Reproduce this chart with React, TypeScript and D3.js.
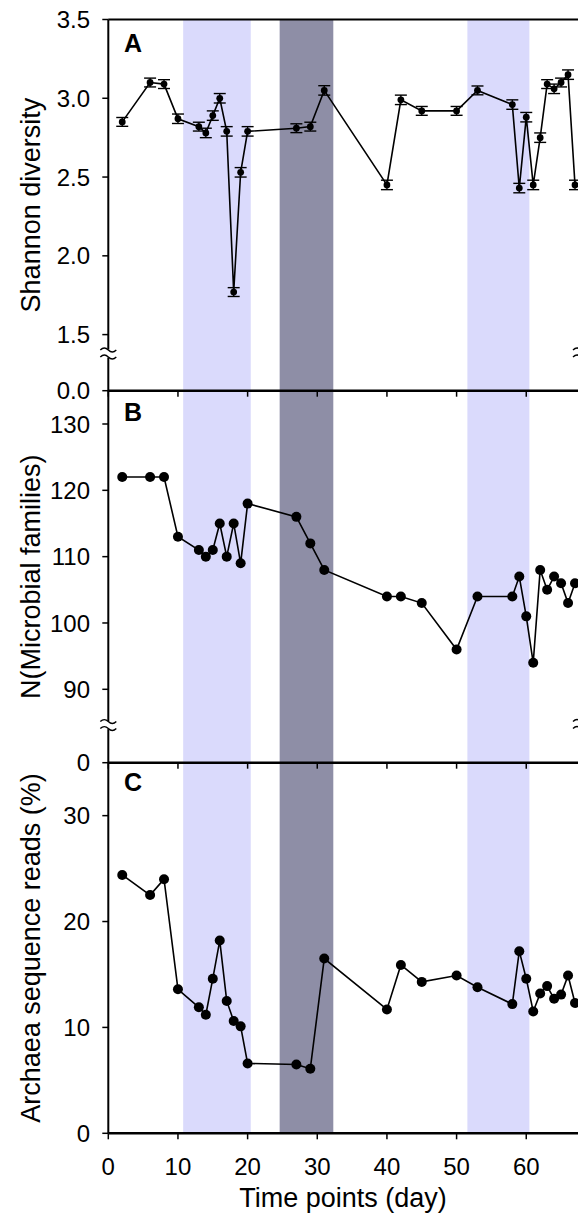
import React from "react";
import * as d3 from "d3";

// sampling days (shared by all three panels)
const days = [2, 6, 8, 10, 13, 14, 15, 16, 17, 18, 19, 20, 27, 29, 31, 40, 42, 45, 50, 53, 58, 59, 60, 61, 62, 63, 64, 65, 66, 67];

// panel A: Shannon diversity (mean +/- error)
const shannon = [2.85, 3.1, 3.09, 2.87, 2.82, 2.78, 2.89, 3.0, 2.79, 1.77, 2.53, 2.79, 2.81, 2.82, 3.05, 2.45, 2.99, 2.92, 2.92, 3.05, 2.96, 2.43, 2.88, 2.45, 2.75, 3.09, 3.06, 3.1, 3.15, 2.45];
const shannonErr = [0.028, 0.028, 0.028, 0.03, 0.028, 0.03, 0.03, 0.03, 0.03, 0.028, 0.03, 0.03, 0.028, 0.028, 0.03, 0.03, 0.03, 0.028, 0.028, 0.028, 0.03, 0.03, 0.03, 0.03, 0.03, 0.028, 0.03, 0.028, 0.03, 0.03];

// panel B: number of microbial families
const families = [122, 122, 122, 113, 111, 110, 111, 115, 110, 115, 109, 118, 116, 112, 108, 104, 104, 103, 96, 104, 104, 107, 101, 94, 108, 105, 107, 106, 103, 106];

// panel C: archaea share of reads (%)
const archaea = [24.4, 22.5, 24.0, 13.6, 11.9, 11.2, 14.6, 18.2, 12.5, 10.6, 10.1, 6.6, 6.5, 6.1, 16.5, 11.7, 15.9, 14.3, 14.9, 13.8, 12.2, 17.2, 14.6, 11.5, 13.2, 13.9, 12.7, 13.1, 14.9, 12.3];

// shaded periods (days)
const lightBands = [[10.75, 20.45], [51.55, 60.45]];
const darkBands = [[24.6, 32.3]];

const xTicks = [0, 10, 20, 30, 40, 50, 60];
const ticksA = [1.5, 2.0, 2.5, 3.0, 3.5];
const ticksB = [90, 100, 110, 120, 130];
const ticksC = [0, 10, 20, 30];

const FONT = "'Liberation Sans', Arial, sans-serif";

const W = 578;
const H = 1215;
const left = 108.3;
const right = 581;

const x = d3.scaleLinear().domain([0, 67.86]).range([left, right]);

// panel vertical extents
const topA = 19.5;
const botA = 390.7;
const botB = 762.7;
const botC = 1133.3;

const yA = d3.scaleLinear().domain([1.5, 3.5]).range([334.6, topA]);
const yB = d3.scaleLinear().domain([90, 130]).range([689.3, 424]);
const yC = d3.scaleLinear().domain([0, 35]).range([botC, botB]);

const fmtA = d3.format(".1f");

const BreakMark = ({ cx, cy }) => (
  <g>
    <rect x={cx - 3} y={cy - 4} width={6} height={8} fill="#fff" />
    <path d={`M${cx - 8},${cy - 3.5} q4,-4 8,0 t8,0`} fill="none" stroke="#000" strokeWidth={1.4} />
    <path d={`M${cx - 8},${cy + 3.5} q4,-4 8,0 t8,0`} fill="none" stroke="#000" strokeWidth={1.4} />
  </g>
);

const Series = ({ values, y, r, err }) => {
  const line = d3
    .line()
    .x((_, i) => x(days[i]))
    .y((d) => y(d));
  return (
    <g>
      <path d={line(values)} fill="none" stroke="#000" strokeWidth={1.6} />
      {err &&
        values.map((v, i) => (
          <g key={"e" + i} stroke="#000" strokeWidth={1.4}>
            <line x1={x(days[i])} x2={x(days[i])} y1={y(v - err[i])} y2={y(v + err[i])} />
            <line x1={x(days[i]) - 6} x2={x(days[i]) + 6} y1={y(v - err[i])} y2={y(v - err[i])} />
            <line x1={x(days[i]) - 6} x2={x(days[i]) + 6} y1={y(v + err[i])} y2={y(v + err[i])} />
          </g>
        ))}
      {values.map((v, i) => (
        <circle key={i} cx={x(days[i])} cy={y(v)} r={r} fill="#000" />
      ))}
    </g>
  );
};

const YTicks = ({ ticks, y, fmt }) => (
  <g>
    {ticks.map((t) => (
      <g key={t}>
        <line x1={left - 6} x2={left} y1={y(t)} y2={y(t)} stroke="#000" strokeWidth={1.5} />
        <text x={90} y={y(t)} dy="0.36em" textAnchor="end" fontSize={24} fontFamily={FONT}>
          {fmt ? fmt(t) : t}
        </text>
      </g>
    ))}
  </g>
);

const XAxisLine = ({ yPos, labels }) => (
  <g>
    <line x1={left} x2={W + 10} y1={yPos} y2={yPos} stroke="#000" strokeWidth={2.4} />
    {xTicks.map((t) => (
      <g key={t}>
        <line x1={x(t)} x2={x(t)} y1={yPos} y2={yPos + 6} stroke="#000" strokeWidth={1.5} />
        {labels && (
          <text x={x(t)} y={yPos + 42} textAnchor="middle" fontSize={24} fontFamily={FONT}>
            {t}
          </text>
        )}
      </g>
    ))}
  </g>
);

const YTitle = ({ text, mid }) => (
  <text
    transform={`translate(40,${mid}) rotate(-90)`}
    textAnchor="middle"
    fontSize={27}
    fontFamily={FONT}
  >
    {text}
  </text>
);

const PanelLabel = ({ text, yPos }) => (
  <text x={124} y={yPos} fontSize={25} fontWeight="bold" fontFamily={FONT}>
    {text}
  </text>
);

export default function App() {
  const breakA = yA(1.38);
  const breakB = yB(84.6);
  return (
    <svg
      width={W}
      height={H}
      style={{ position: "absolute", left: 0, top: 0, background: "#fff" }}
    >
      <rect width={W} height={H} fill="#fff" />
      {lightBands.map(([a, b], i) => (
        <rect key={"l" + i} x={x(a)} y={topA} width={x(b) - x(a)} height={botC - topA} fill="#dadafc" />
      ))}
      {darkBands.map(([a, b], i) => (
        <rect key={"d" + i} x={x(a)} y={topA} width={x(b) - x(a)} height={botC - topA} fill="#8e8ea6" />
      ))}

      {/* frame */}
      <line x1={left} x2={W + 10} y1={topA} y2={topA} stroke="#000" strokeWidth={1.8} />
      <line x1={left} x2={left} y1={topA} y2={botC} stroke="#000" strokeWidth={2} />
      <line x1={right} x2={right} y1={topA} y2={botC} stroke="#000" strokeWidth={2} />

      <XAxisLine yPos={botA} />
      <XAxisLine yPos={botB} />
      <XAxisLine yPos={botC} labels />

      {/* y axes */}
      <YTicks ticks={ticksA} y={yA} fmt={fmtA} />
      <YTicks ticks={[0]} y={() => botA} fmt={fmtA} />
      <YTicks ticks={ticksB} y={yB} />
      <YTicks ticks={[0]} y={() => botB} />
      <YTicks ticks={ticksC} y={yC} />

      <BreakMark cx={left} cy={breakA} />
      <BreakMark cx={right} cy={breakA} />
      <BreakMark cx={left} cy={breakB} />
      <BreakMark cx={right} cy={breakB} />

      <Series values={shannon} y={yA} r={3.4} err={shannonErr} />
      <Series values={families} y={yB} r={5} />
      <Series values={archaea} y={yC} r={5} />

      <PanelLabel text="A" yPos={52} />
      <PanelLabel text="B" yPos={421} />
      <PanelLabel text="C" yPos={791} />

      <YTitle text="Shannon diversity" mid={(topA + botA) / 2} />
      <YTitle text="N(Microbial families)" mid={(botA + botB) / 2} />
      <YTitle text="Archaea sequence reads (%)" mid={(botB + botC) / 2} />

      <text x={343} y={1207} textAnchor="middle" fontSize={27} fontFamily={FONT}>
        Time points (day)
      </text>
    </svg>
  );
}
